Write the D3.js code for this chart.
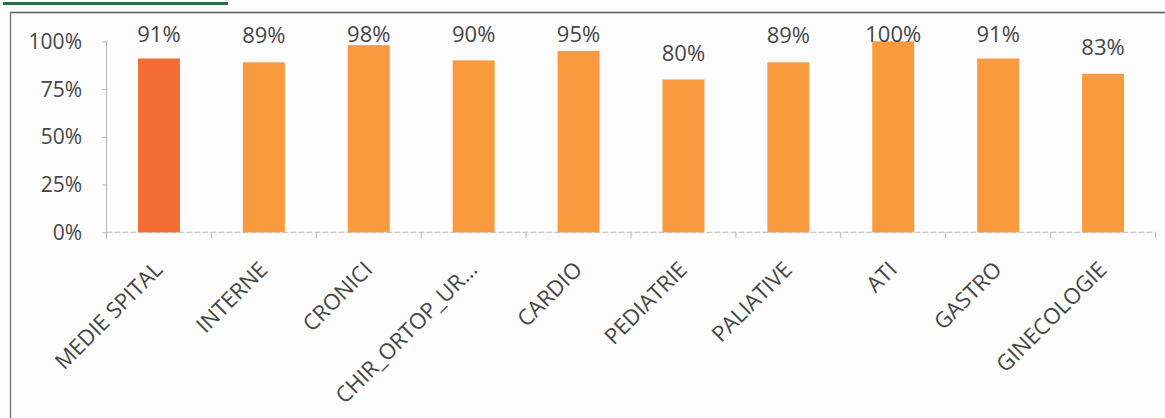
<!DOCTYPE html>
<html>
<head>
<meta charset="utf-8">
<script src="https://cdn.jsdelivr.net/npm/d3@7/dist/d3.min.js"></script>
<style>
  html, body { margin: 0; padding: 0; background: #fcfcfc; }
  svg { display: block; }
  text { font-family: "Open Sans", "Noto Sans", sans-serif; fill: #464646; }
</style>
</head>
<body>
<svg id="chart" width="1165" height="418"></svg>
<script>
// Section names and their rates
const categories = ["MEDIE SPITAL", "INTERNE", "CRONICI", "CHIR_ORTOP_UR...", "CARDIO",
                    "PEDIATRIE", "PALIATIVE", "ATI", "GASTRO", "GINECOLOGIE"];
const values = [0.91, 0.89, 0.98, 0.90, 0.95, 0.80, 0.89, 1.00, 0.91, 0.83];
const valueLabels = ["91%", "89%", "98%", "90%", "95%", "80%", "89%", "100%", "91%", "83%"];
const yTicks = [0, 0.25, 0.5, 0.75, 1];
const yTickLabels = ["0%", "25%", "50%", "75%", "100%"];

const svg = d3.select("#chart");

// Plot area
const plot = { left: 106.5, right: 1155.5, top: 41.3, bottom: 232.3 };

const x = d3.scaleBand()
  .domain(categories)
  .range([plot.left, plot.right])
  .paddingInner(0.6)
  .paddingOuter(0.3);

const y = d3.scaleLinear()
  .domain([0, 1])
  .range([plot.bottom, plot.top]);

// Heading rule and chart frame
svg.append("line")
  .attr("x1", 3).attr("x2", 228).attr("y1", 3.5).attr("y2", 3.5)
  .attr("stroke", "#2f6a47").attr("stroke-width", 3);

svg.append("line")
  .attr("x1", 10).attr("x2", 1165).attr("y1", 12.5).attr("y2", 12.5)
  .attr("stroke", "#5a5a5a").attr("stroke-width", 1.3);
svg.append("line")
  .attr("x1", 10.5).attr("x2", 10.5).attr("y1", 12).attr("y2", 418)
  .attr("stroke", "#6a6a6a").attr("stroke-width", 1.2);

// Y axis
const yAxis = svg.append("g")
  .attr("transform", `translate(${plot.left},0)`)
  .call(d3.axisLeft(y).tickValues(yTicks).tickSize(4).tickFormat(""));
yAxis.select(".domain").remove();
yAxis.selectAll(".tick line").attr("stroke", "#b5b5b5");
svg.append("line")
  .attr("x1", plot.left).attr("x2", plot.left)
  .attr("y1", plot.top).attr("y2", plot.bottom + 7)
  .attr("stroke", "#b5b5b5").attr("stroke-width", 1);

svg.append("g")
  .selectAll("text")
  .data(yTicks)
  .join("text")
  .attr("x", 82)
  .attr("y", d => y(d) + 7.5)
  .attr("text-anchor", "end")
  .style("font-size", "21px")
  .text((d, i) => yTickLabels[i]);

// X axis baseline with ticks at band boundaries
svg.append("line")
  .attr("x1", plot.left).attr("x2", plot.right)
  .attr("y1", plot.bottom).attr("y2", plot.bottom)
  .attr("stroke", "#bdbdbd").attr("stroke-width", 1)
  .attr("stroke-dasharray", "6,2");

const step = x.step();
const boundaries = d3.range(1, categories.length + 1)
  .map(i => plot.left + i * step);
svg.append("g")
  .selectAll("line")
  .data(boundaries)
  .join("line")
  .attr("x1", d => d).attr("x2", d => d)
  .attr("y1", plot.bottom).attr("y2", plot.bottom + 6)
  .attr("stroke", "#b5b5b5");

// Bars
svg.append("g")
  .selectAll("rect")
  .data(values)
  .join("rect")
  .attr("x", (d, i) => x(categories[i]))
  .attr("y", d => y(d))
  .attr("width", x.bandwidth())
  .attr("height", d => y(0) - y(d))
  .attr("fill", (d, i) => i === 0 ? "#f46d34" : "#f89a3d");

// Value labels above bars, kept inside the chart area
svg.append("g")
  .selectAll("text")
  .data(values)
  .join("text")
  .attr("x", (d, i) => x(categories[i]) + x.bandwidth() / 2)
  .attr("y", d => Math.max(y(d) - 19, 41.5))
  .attr("text-anchor", "middle")
  .style("font-size", "22px")
  .text((d, i) => valueLabels[i]);

// Rotated category labels
svg.append("g")
  .selectAll("text")
  .data(categories)
  .join("text")
  .attr("transform", d => `translate(${x(d) + x.bandwidth() / 2 + 5},271) rotate(-45)`)
  .attr("text-anchor", "end")
  .style("font-size", "22px")
  .text(d => d);
</script>
</body>
</html>
